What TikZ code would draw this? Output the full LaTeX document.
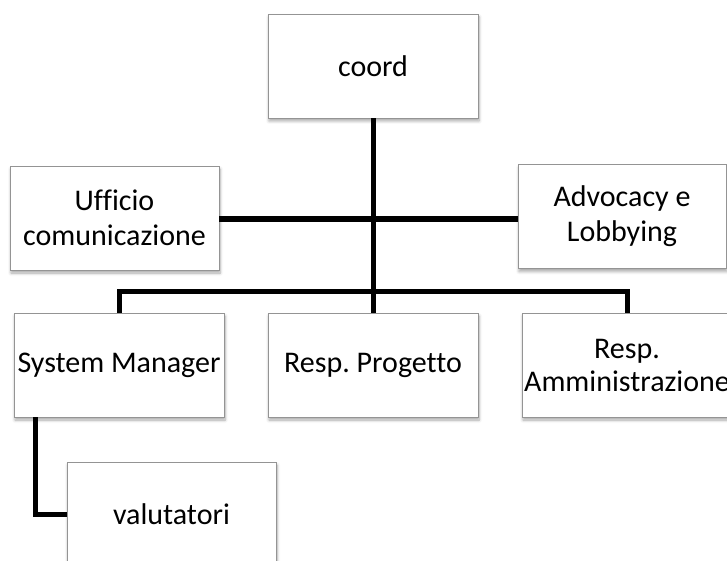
\documentclass[tikz,border=0pt]{standalone}
\usepackage{fontspec}
\setmainfont[Ligatures={NoCommon}]{Carlito}
\usetikzlibrary{shadows.blur}
\frenchspacing
\begin{document}
\begin{tikzpicture}[x=1pt,y=-1pt,
  box/.style={draw=black!42, line width=0.9pt, fill=white, inner sep=0pt,
    minimum width=210pt, minimum height=104pt, align=center,
    font=\fontsize{30}{35}\selectfont,
    blur shadow={shadow xshift=1pt, shadow yshift=-3pt, shadow blur radius=3pt, shadow blur steps=6, shadow opacity=35}},
  conn/.style={line width=5pt, black}]
\useasboundingbox (0,0) rectangle (727,561);
\clip (0,0) rectangle (727,561);
\node[box] (coord) at (373,66) {coord};
\node[box, minimum width=209pt] (uff) at (114.5,218) {Ufficio\\comunicazione};
\node[box, minimum width=208pt] (adv) at (622,216.5) {Advocacy e\\Lobbying};
\node[box] (sys) at (119,365) {System Manager};
\node[box] (prog) at (373,365) {Resp. Progetto};
\node[box] (amm) at (627,365) {Resp.\\[-2pt]Amministrazione};
\node[box, minimum width=209pt] (val) at (171.5,514) {valutatori};
\coordinate (busA) at (373,219);
\coordinate (busB) at (373,291);
\coordinate (vc) at (35,513);
\draw[conn] (uff.east |- busA) -- (adv.west |- busA);
\draw[conn] (coord.south) -- (prog.north);
\draw[conn] (sys.north) |- (busB) -| (amm.north);
\draw[conn] (sys.south -| vc) |- (val.west);
\end{tikzpicture}
\end{document}
